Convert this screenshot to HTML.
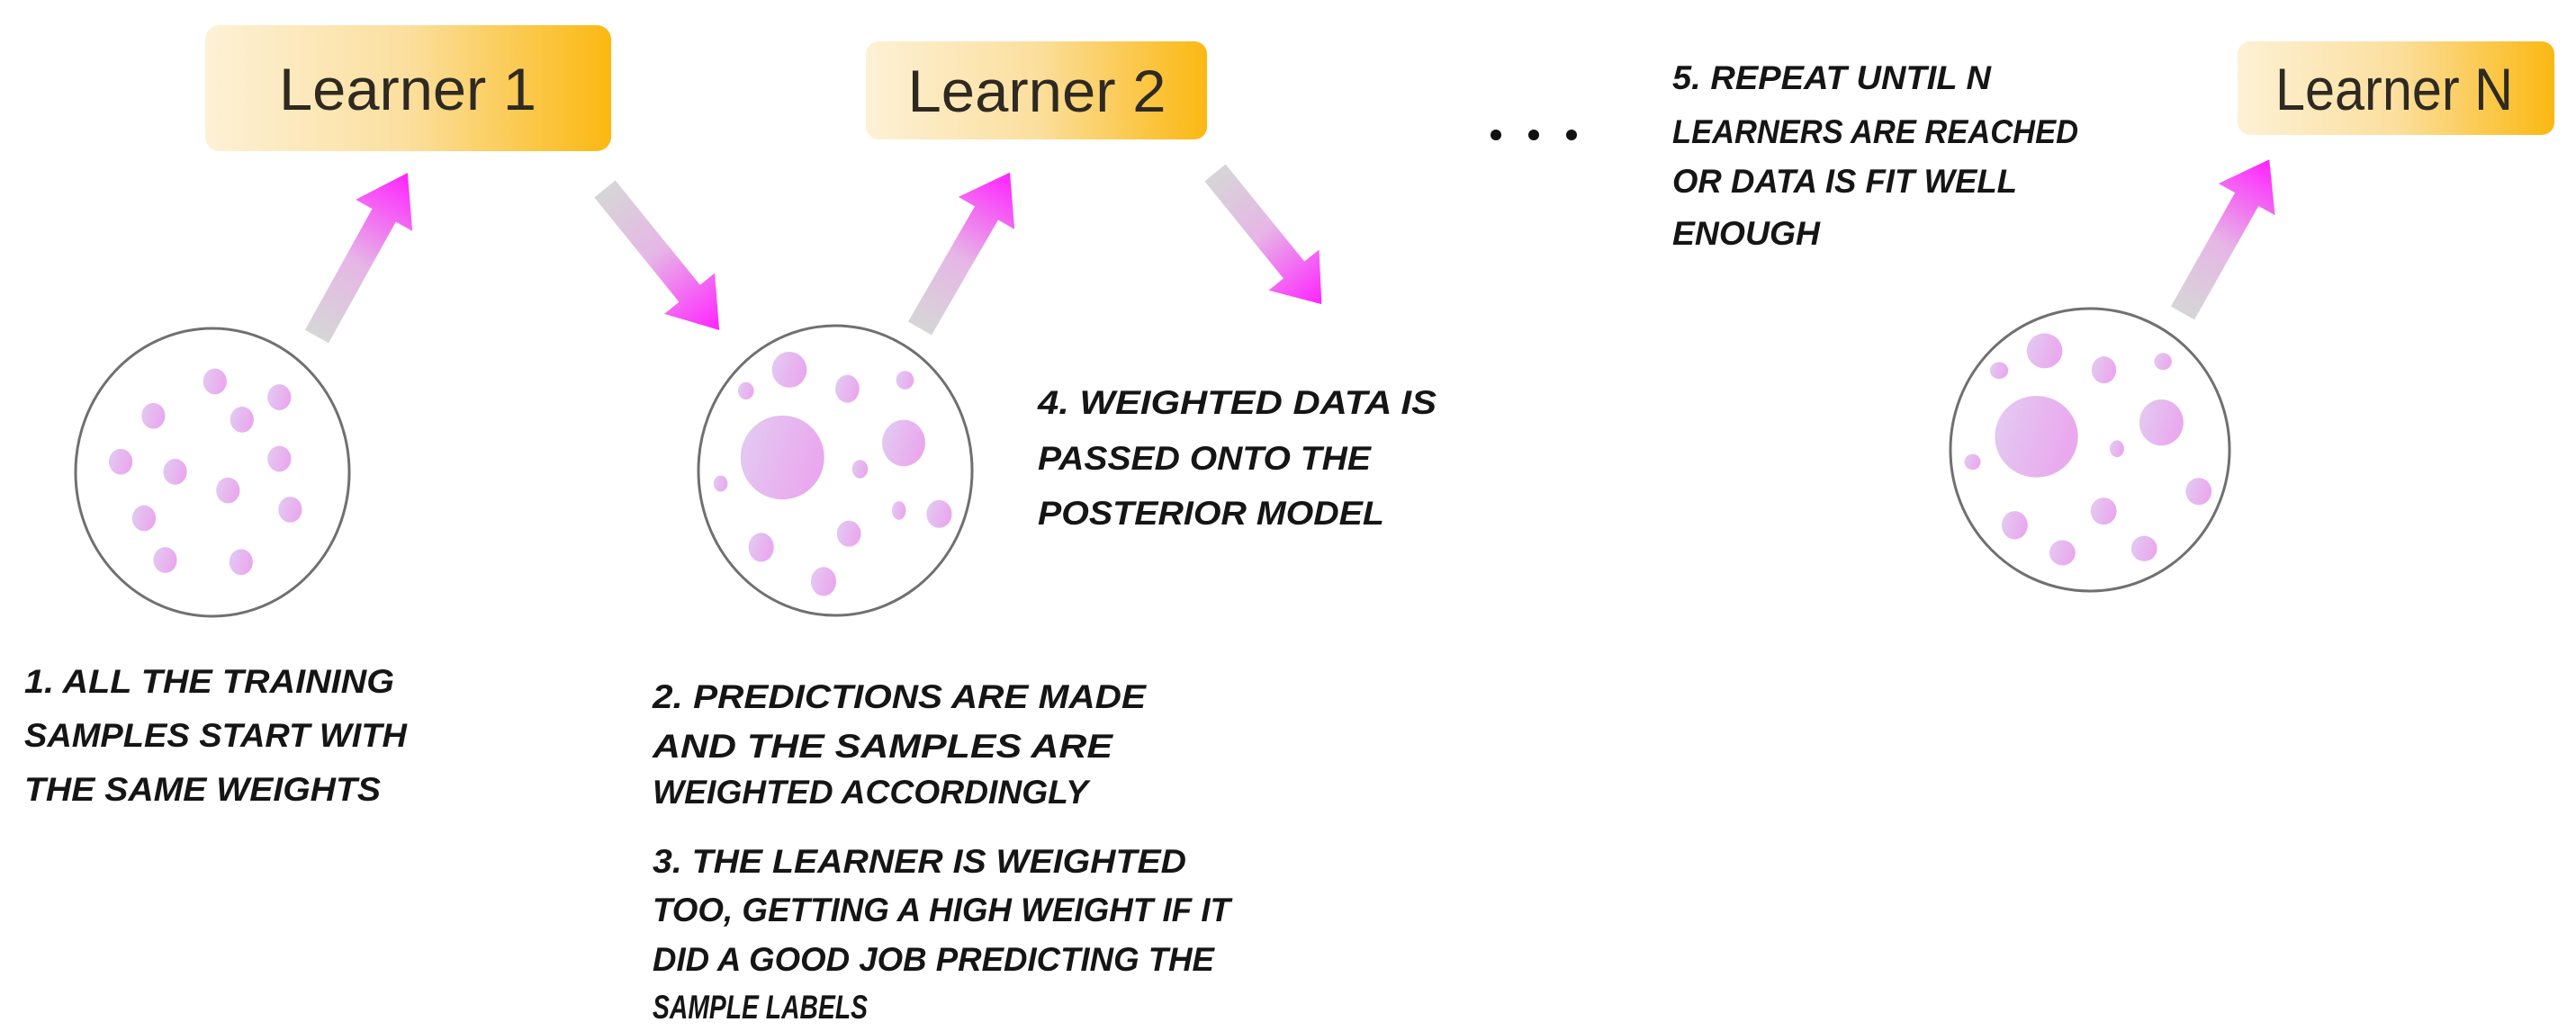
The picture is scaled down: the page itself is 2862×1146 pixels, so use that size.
<!DOCTYPE html>
<html><head><meta charset="utf-8"><style>
html,body{margin:0;padding:0;background:#fff;}
svg{display:block;}
.t{font-family:"Liberation Sans",sans-serif;font-weight:bold;font-style:italic;text-transform:uppercase;font-size:37px;fill:#151515;}
.l{font-family:"Liberation Sans",sans-serif;font-size:66px;fill:#2e2a22;}
</style></head><body>
<svg width="2862" height="1146" viewBox="0 0 2862 1146" xmlns="http://www.w3.org/2000/svg">
<defs>
<linearGradient id="box" x1="0" y1="0" x2="1" y2="0">
<stop offset="0" stop-color="#fdf1d6"/><stop offset="0.5" stop-color="#fbdf9e"/><stop offset="1" stop-color="#fbb812"/></linearGradient>
<linearGradient id="arr" x1="0" y1="0" x2="1" y2="0">
<stop offset="0" stop-color="#d6d6d6"/><stop offset="0.45" stop-color="#e6b6e6"/><stop offset="1" stop-color="#ff22ff"/></linearGradient>
<linearGradient id="dot" x1="0" y1="0" x2="1" y2="0.3">
<stop offset="0" stop-color="#e2ccf2"/><stop offset="1" stop-color="#eaa8ee"/></linearGradient>
<polygon id="a" points="0,-15 148,-15 148,-36 200,0 148,36 148,15 0,15"/>
</defs>

<rect x="228" y="28" width="451" height="140" rx="16" fill="url(#box)"/>
<text class="l" x="453" y="122" text-anchor="middle" textLength="286" lengthAdjust="spacingAndGlyphs">Learner 1</text>
<rect x="962" y="46" width="379" height="109" rx="14" fill="url(#box)"/>
<text class="l" x="1152" y="124" text-anchor="middle" textLength="287" lengthAdjust="spacingAndGlyphs">Learner 2</text>
<rect x="2486" y="46" width="352" height="104" rx="14" fill="url(#box)"/>
<text class="l" x="2660" y="122" text-anchor="middle" textLength="264" lengthAdjust="spacingAndGlyphs">Learner N</text>

<g transform="translate(352,374) rotate(-61) scale(1.04,1)"><use href="#a" fill="url(#arr)"/></g>
<g transform="translate(672,210) rotate(51) scale(1.01,1)"><use href="#a" fill="url(#arr)"/></g>
<g transform="translate(1022,365) rotate(-60) scale(1.0,1)"><use href="#a" fill="url(#arr)"/></g>
<g transform="translate(1350,192) rotate(51) scale(0.94,1)"><use href="#a" fill="url(#arr)"/></g>
<g transform="translate(2425,348) rotate(-60.6) scale(0.98,1)"><use href="#a" fill="url(#arr)"/></g>

<circle cx="1662" cy="150" r="6" fill="#111"/><circle cx="1704" cy="150" r="6" fill="#111"/><circle cx="1746" cy="150" r="6" fill="#111"/>

<g transform="translate(236,525) scale(0.3455,0.3187) translate(-660,-702)" fill="url(#dot)">
<ellipse cx="660" cy="702" rx="440" ry="502" fill="#fff" stroke="#707070" stroke-width="3" vector-effect="non-scaling-stroke"/>
<ellipse cx="668" cy="385" rx="38" ry="45"/><ellipse cx="875" cy="440" rx="38" ry="45"/>
<ellipse cx="470" cy="505" rx="38" ry="45"/><ellipse cx="755" cy="518" rx="38" ry="45"/>
<ellipse cx="365" cy="665" rx="38" ry="45"/><ellipse cx="540" cy="700" rx="38" ry="45"/>
<ellipse cx="875" cy="655" rx="38" ry="45"/><ellipse cx="710" cy="765" rx="38" ry="45"/>
<ellipse cx="440" cy="862" rx="38" ry="45"/><ellipse cx="910" cy="832" rx="38" ry="45"/>
<ellipse cx="508" cy="1008" rx="38" ry="45"/><ellipse cx="752" cy="1015" rx="38" ry="45"/>
</g>

<g transform="translate(928,523) scale(0.3519,0.322) translate(-642,-700)" fill="url(#dot)">
<ellipse cx="642" cy="700" rx="432" ry="500" fill="#fff" stroke="#707070" stroke-width="3" vector-effect="non-scaling-stroke"/>
<ellipse cx="497" cy="352" rx="55" ry="62"/><ellipse cx="360" cy="425" rx="25" ry="30"/>
<ellipse cx="680" cy="418" rx="38" ry="48"/><ellipse cx="862" cy="388" rx="28" ry="32"/>
<ellipse cx="475" cy="655" rx="132" ry="145"/><ellipse cx="858" cy="605" rx="68" ry="80"/>
<ellipse cx="720" cy="695" rx="25" ry="32"/><ellipse cx="280" cy="745" rx="22" ry="28"/>
<ellipse cx="843" cy="838" rx="22" ry="32"/><ellipse cx="970" cy="850" rx="40" ry="48"/>
<ellipse cx="685" cy="918" rx="38" ry="45"/><ellipse cx="408" cy="965" rx="40" ry="50"/>
<ellipse cx="605" cy="1083" rx="40" ry="50"/>
</g>

<g transform="translate(2322,500) scale(0.3605,0.3127) translate(-620,-632)" fill="url(#dot)">
<ellipse cx="620" cy="632" rx="430" ry="502" fill="#fff" stroke="#707070" stroke-width="3" vector-effect="non-scaling-stroke"/>
<ellipse cx="480" cy="280" rx="55" ry="62"/><ellipse cx="340" cy="350" rx="28" ry="30"/>
<ellipse cx="663" cy="348" rx="38" ry="48"/><ellipse cx="845" cy="318" rx="27" ry="30"/>
<ellipse cx="455" cy="585" rx="128" ry="145"/><ellipse cx="840" cy="535" rx="68" ry="82"/>
<ellipse cx="703" cy="628" rx="22" ry="30"/><ellipse cx="258" cy="675" rx="25" ry="28"/>
<ellipse cx="955" cy="780" rx="40" ry="48"/><ellipse cx="662" cy="850" rx="40" ry="48"/>
<ellipse cx="388" cy="900" rx="40" ry="50"/><ellipse cx="535" cy="998" rx="40" ry="45"/>
<ellipse cx="787" cy="983" rx="40" ry="45"/>
</g>

<text class="t" x="27" y="770" textLength="411" lengthAdjust="spacingAndGlyphs">1. All the training</text>
<text class="t" x="27" y="830" textLength="425" lengthAdjust="spacingAndGlyphs">samples start with</text>
<text class="t" x="27" y="890" textLength="396" lengthAdjust="spacingAndGlyphs">the same weights</text>

<text class="t" x="725" y="787" textLength="548" lengthAdjust="spacingAndGlyphs">2. Predictions are made</text>
<text class="t" x="725" y="842" textLength="511" lengthAdjust="spacingAndGlyphs">and the samples are</text>
<text class="t" x="725" y="893" textLength="484" lengthAdjust="spacingAndGlyphs">weighted accordingly</text>

<text class="t" x="725" y="970" textLength="593" lengthAdjust="spacingAndGlyphs">3. The Learner is weighted</text>
<text class="t" x="725" y="1024" textLength="642" lengthAdjust="spacingAndGlyphs">too, getting a high weight if it</text>
<text class="t" x="725" y="1079" textLength="624" lengthAdjust="spacingAndGlyphs">did a Good job predicting the</text>
<text class="t" x="725" y="1132" textLength="239" lengthAdjust="spacingAndGlyphs">sample labels</text>

<text class="t" x="1153" y="460" textLength="443" lengthAdjust="spacingAndGlyphs">4. Weighted Data is</text>
<text class="t" x="1153" y="522" textLength="370" lengthAdjust="spacingAndGlyphs">passed onto the</text>
<text class="t" x="1153" y="583" textLength="385" lengthAdjust="spacingAndGlyphs">posterior model</text>

<text class="t" x="1858" y="99" textLength="354" lengthAdjust="spacingAndGlyphs">5. Repeat until N</text>
<text class="t" x="1858" y="159" textLength="451" lengthAdjust="spacingAndGlyphs">learners are reached</text>
<text class="t" x="1858" y="214" textLength="383" lengthAdjust="spacingAndGlyphs">or data is fit well</text>
<text class="t" x="1858" y="272" textLength="164" lengthAdjust="spacingAndGlyphs">enough</text>
</svg>
</body></html>
